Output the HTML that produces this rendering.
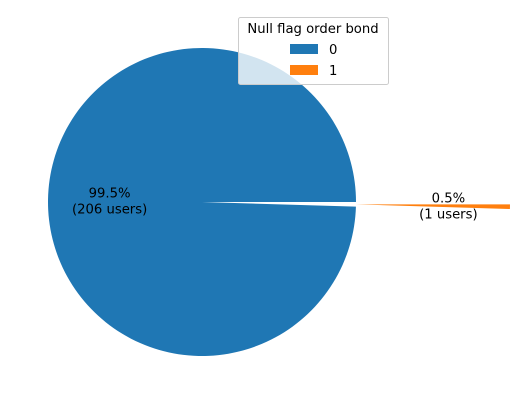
<!DOCTYPE html>
<html><head><meta charset="utf-8"><style>
body{margin:0;background:#fff;}
svg{display:block;font-family:"DejaVu Sans","Liberation Sans",sans-serif;}
</style></head><body>
<svg id="chart" width="520" height="405" viewBox="0 0 520 405">
<g id="slices"></g>
<g id="labels"></g>
<g>
<rect x="238.5" y="17.5" width="150" height="67" rx="2" fill="#fff" fill-opacity="0.8" stroke="#ccc"/>
<text x="313" y="33" font-size="13.2" text-anchor="middle" fill="#000">Null flag order bond</text>
<rect x="290" y="44" width="28" height="10" fill="#1f77b4"/>
<text x="329" y="54" font-size="13.2" fill="#000">0</text>
<rect x="290" y="65" width="28" height="10" fill="#ff7f0e"/>
<text x="329" y="75" font-size="13.2" fill="#000">1</text>
</g>
</svg>
<script>
const categories = ["0", "1"];
const counts = [206, 1];
const explode = [0, 1.0];
const colors = ["#1f77b4", "#ff7f0e"];
const cx = 202, cy = 202, R = 154;
const total = counts.reduce((a,b)=>a+b,0);
const ns = "http://www.w3.org/2000/svg";
const gs = document.getElementById('slices'), gl = document.getElementById('labels');
let start = 0;
counts.forEach((v,i)=>{
  const frac = v/total, sweep = frac*2*Math.PI, end = start+sweep, mid = (start+end)/2;
  const ox = cx + explode[i]*R*Math.cos(mid), oy = cy - explode[i]*R*Math.sin(mid);
  const x1 = ox+R*Math.cos(start), y1 = oy-R*Math.sin(start);
  const x2 = ox+R*Math.cos(end), y2 = oy-R*Math.sin(end);
  const large = sweep > Math.PI ? 1 : 0;
  const p = document.createElementNS(ns,'path');
  p.setAttribute('d', `M${ox},${oy} L${x1},${y1} A${R},${R} 0 ${large} 0 ${x2},${y2} Z`);
  p.setAttribute('fill', colors[i]);
  
  
  gs.appendChild(p);
  const lx = ox + 0.6*R*Math.cos(mid), ly = oy - 0.6*R*Math.sin(mid);
  const t = document.createElementNS(ns,'text');
  t.setAttribute('text-anchor','middle'); t.setAttribute('font-size','13.2'); t.setAttribute('fill','#000');
  
  
  const a = document.createElementNS(ns,'tspan'); a.setAttribute('x',lx); a.setAttribute('y',ly-3);
  a.textContent = (frac*100).toFixed(1)+'%';
  const b = document.createElementNS(ns,'tspan'); b.setAttribute('x',lx); b.setAttribute('y',ly+13);
  b.textContent = '('+v+' users)';
  t.appendChild(a); t.appendChild(b); gl.appendChild(t);
  start = end;
});
</script>
</body></html>
